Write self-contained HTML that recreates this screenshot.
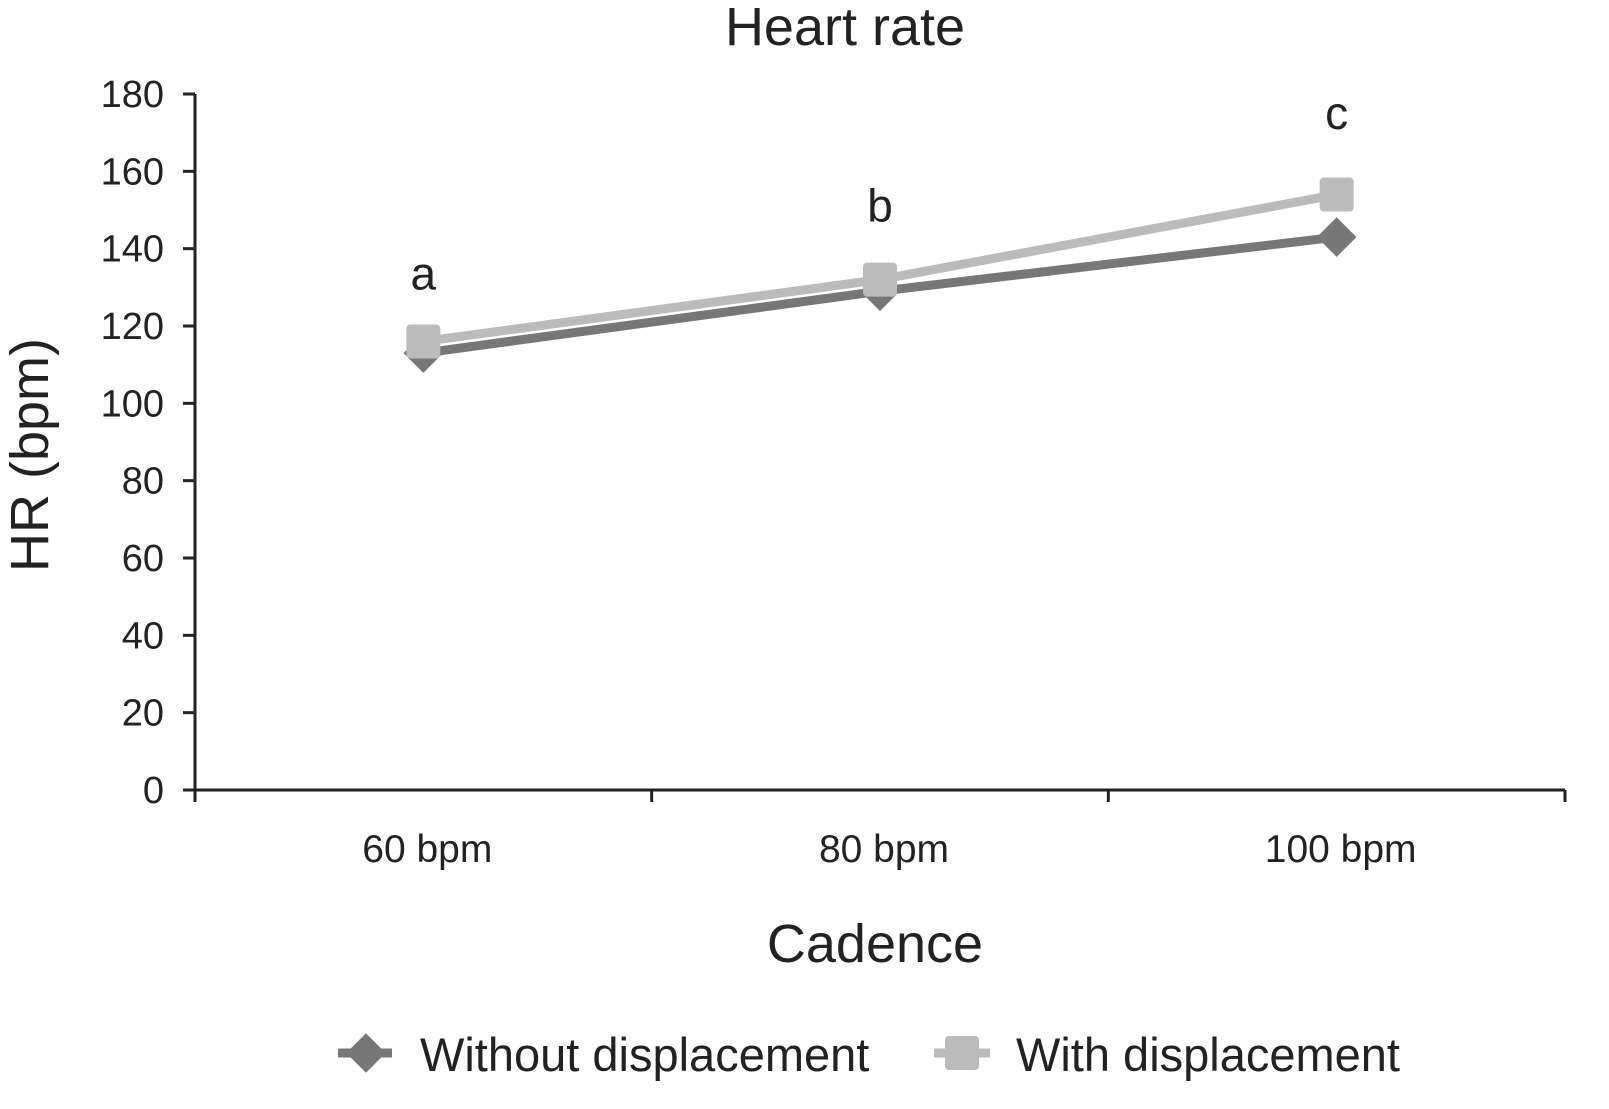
<!DOCTYPE html>
<html><head><meta charset="utf-8"><style>
html,body{margin:0;padding:0;background:#fff;}
svg{display:block;font-family:"Liberation Sans",sans-serif;}
</style></head><body>
<svg id="chart" width="1609" height="1109" viewBox="0 0 1609 1109">
<text x="845" y="45" font-size="54" text-anchor="middle" fill="#222">Heart rate</text>
<text transform="translate(48,455) rotate(-90)" font-size="54" text-anchor="middle" fill="#222">HR (bpm)</text>
<text x="875" y="962" font-size="54" text-anchor="middle" fill="#222">Cadence</text>
<g id="axes"></g>
<g id="series"></g>
<g id="legend">
<g>
<line x1="338" y1="1053" x2="392" y2="1053" stroke="#777" stroke-width="9"/>
<rect x="352" y="1039" width="28" height="28" fill="#777" transform="rotate(45 366 1053)"/>
<text x="420" y="1071" font-size="47" fill="#222">Without displacement</text>
</g>
<g>
<line x1="934" y1="1053" x2="990" y2="1053" stroke="#bbb" stroke-width="9"/>
<rect x="945" y="1036" width="34" height="34" rx="4" fill="#bbb"/>
<text x="1016" y="1071" font-size="47" fill="#222">With displacement</text>
</g>
</g>
</svg>
<script>
const categories=["60 bpm","80 bpm","100 bpm"];
const withoutDisp=[113,129,143];
const withDisp=[116,132,154];
const yTicks=[0,20,40,60,80,100,120,140,160,180];
const sigLabels=["a","b","c"];
const sigValues=[129.5,147,171];
const NS="http://www.w3.org/2000/svg";
const x0=195,x1=1565,yBase=790,yTop=94,yMax=180;
const y=v=>yBase-(v/yMax)*(yBase-yTop);
const band=(x1-x0)/categories.length;
const x=i=>x0+band*(i+0.5);
function mk(tag,attrs,parent){const e=document.createElementNS(NS,tag);for(const k in attrs)e.setAttribute(k,attrs[k]);parent.appendChild(e);return e;}
const axes=document.getElementById('axes');
let l=mk('line',{x1:x0,y1:yTop,x2:x0,y2:yBase,stroke:'#222','stroke-width':3},axes);


l=mk('line',{x1:x0,y1:yBase,x2:x1,y2:yBase,stroke:'#222','stroke-width':3},axes);


yTicks.forEach(t=>{
  mk('line',{x1:x0-12,y1:y(t),x2:x0,y2:y(t),stroke:'#222','stroke-width':3},axes);
  const tx=mk('text',{x:x0-31,y:y(t)+13,'font-size':38,'text-anchor':'end',fill:'#222'},axes);
  tx.textContent=t;
  
  
});
for(let i=0;i<=categories.length;i++){
  mk('line',{x1:x0+band*i,y1:yBase,x2:x0+band*i,y2:yBase+12,stroke:'#222','stroke-width':3},axes);
}
categories.forEach((c,i)=>{
  const tx=mk('text',{x:x(i)+4,y:862,'font-size':39,'text-anchor':'middle',fill:'#222'},axes);
  tx.textContent=c;
  
  
});
const s=document.getElementById('series');
function line(vals,color,name){
  const p=mk('polyline',{points:vals.map((v,i)=>x(i)+','+y(v)).join(' '),fill:'none',stroke:color,'stroke-width':9},s);
  
  
}
line(withoutDisp,'#777','line-without-displacement');
line(withDisp,'#bbb','line-with-displacement');
withoutDisp.forEach((v,i)=>{
  const r=mk('rect',{x:x(i)-14,y:y(v)-14,width:28,height:28,fill:'#777',transform:`rotate(45 ${x(i)} ${y(v)})`},s);
  
  
});
withDisp.forEach((v,i)=>{
  const r=mk('rect',{x:x(i)-17,y:y(v)-17,width:34,height:34,rx:4,fill:'#bbb'},s);
  
  
});
sigLabels.forEach((t,i)=>{
  const tx=mk('text',{x:x(i),y:y(sigValues[i]),'font-size':46,'text-anchor':'middle',fill:'#222'},s);
  tx.textContent=t;
  
  
});
</script>
</body></html>
